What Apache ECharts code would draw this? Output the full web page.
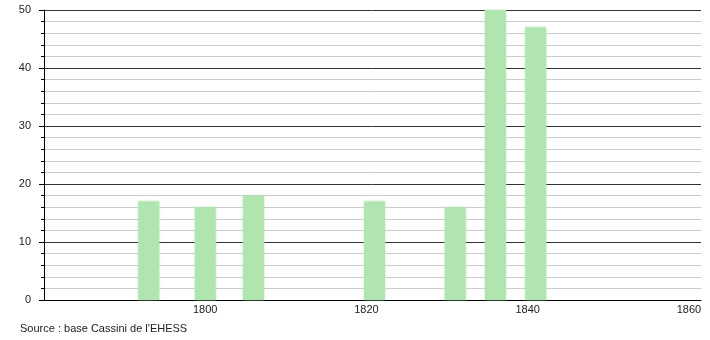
<!DOCTYPE html>
<html>
<head>
<meta charset="utf-8">
<script src="https://cdn.jsdelivr.net/npm/echarts@6/dist/echarts.min.js"></script>
<style>
html,body{margin:0;padding:0;background:#fff;}
#c{width:710px;height:340px;}
</style>
</head>
<body>
<div id="c"></div>
<script>
const years = [1793, 1800, 1806, 1821, 1831, 1836, 1841];
const values = [17, 16, 18, 17, 16, 50, 47];
const xTickLabels = [1800, 1820, 1840, 1860];
const sourceText = "Source : base Cassini de l'EHESS";

const chart = echarts.init(document.getElementById('c'), null, {renderer: 'canvas'});
const font = 'Liberation Sans, Arial, sans-serif';
chart.setOption({
  animation: false,
  backgroundColor: '#fff',
  grid: {left: 44, right: 9, top: 10, bottom: 40, containLabel: false},
  xAxis: {
    type: 'value', min: 1780, max: 1861.5, interval: 20,
    axisLine: {show: true, lineStyle: {color: '#000', width: 1}},
    axisTick: {show: false},
    splitLine: {show: false},
    axisLabel: {
      color: '#222', fontSize: 11, fontFamily: font, margin: 4,
      formatter: v => xTickLabels.includes(v) ? String(v) : ''
    }
  },
  yAxis: {
    type: 'value', min: 0, max: 50, interval: 10,
    axisLine: {show: true, lineStyle: {color: '#000', width: 1}},
    axisTick: {show: true, length: 5, lineStyle: {color: '#000'}},
    minorTick: {show: true, splitNumber: 5, length: 3, lineStyle: {color: '#000'}},
    splitLine: {show: true, lineStyle: {color: '#333', width: 1}},
    minorSplitLine: {show: true, lineStyle: {color: '#ccc', width: 1}},
    axisLabel: {color: '#222', fontSize: 11, fontFamily: font, margin: 13}
  },
  series: [{
    type: 'bar',
    barWidth: 21,
    data: years.map((y, i) => [y, values[i]]),
    itemStyle: {color: '#b0e5b0', shadowBlur: 2, shadowColor: 'rgba(176,229,176,0.8)'},
    z: 3
  }],
  graphic: [{
    type: 'text', left: 20, top: 323,
    style: {text: sourceText, fill: '#222', font: '11px ' + font}
  }]
});
</script>
</body>
</html>
